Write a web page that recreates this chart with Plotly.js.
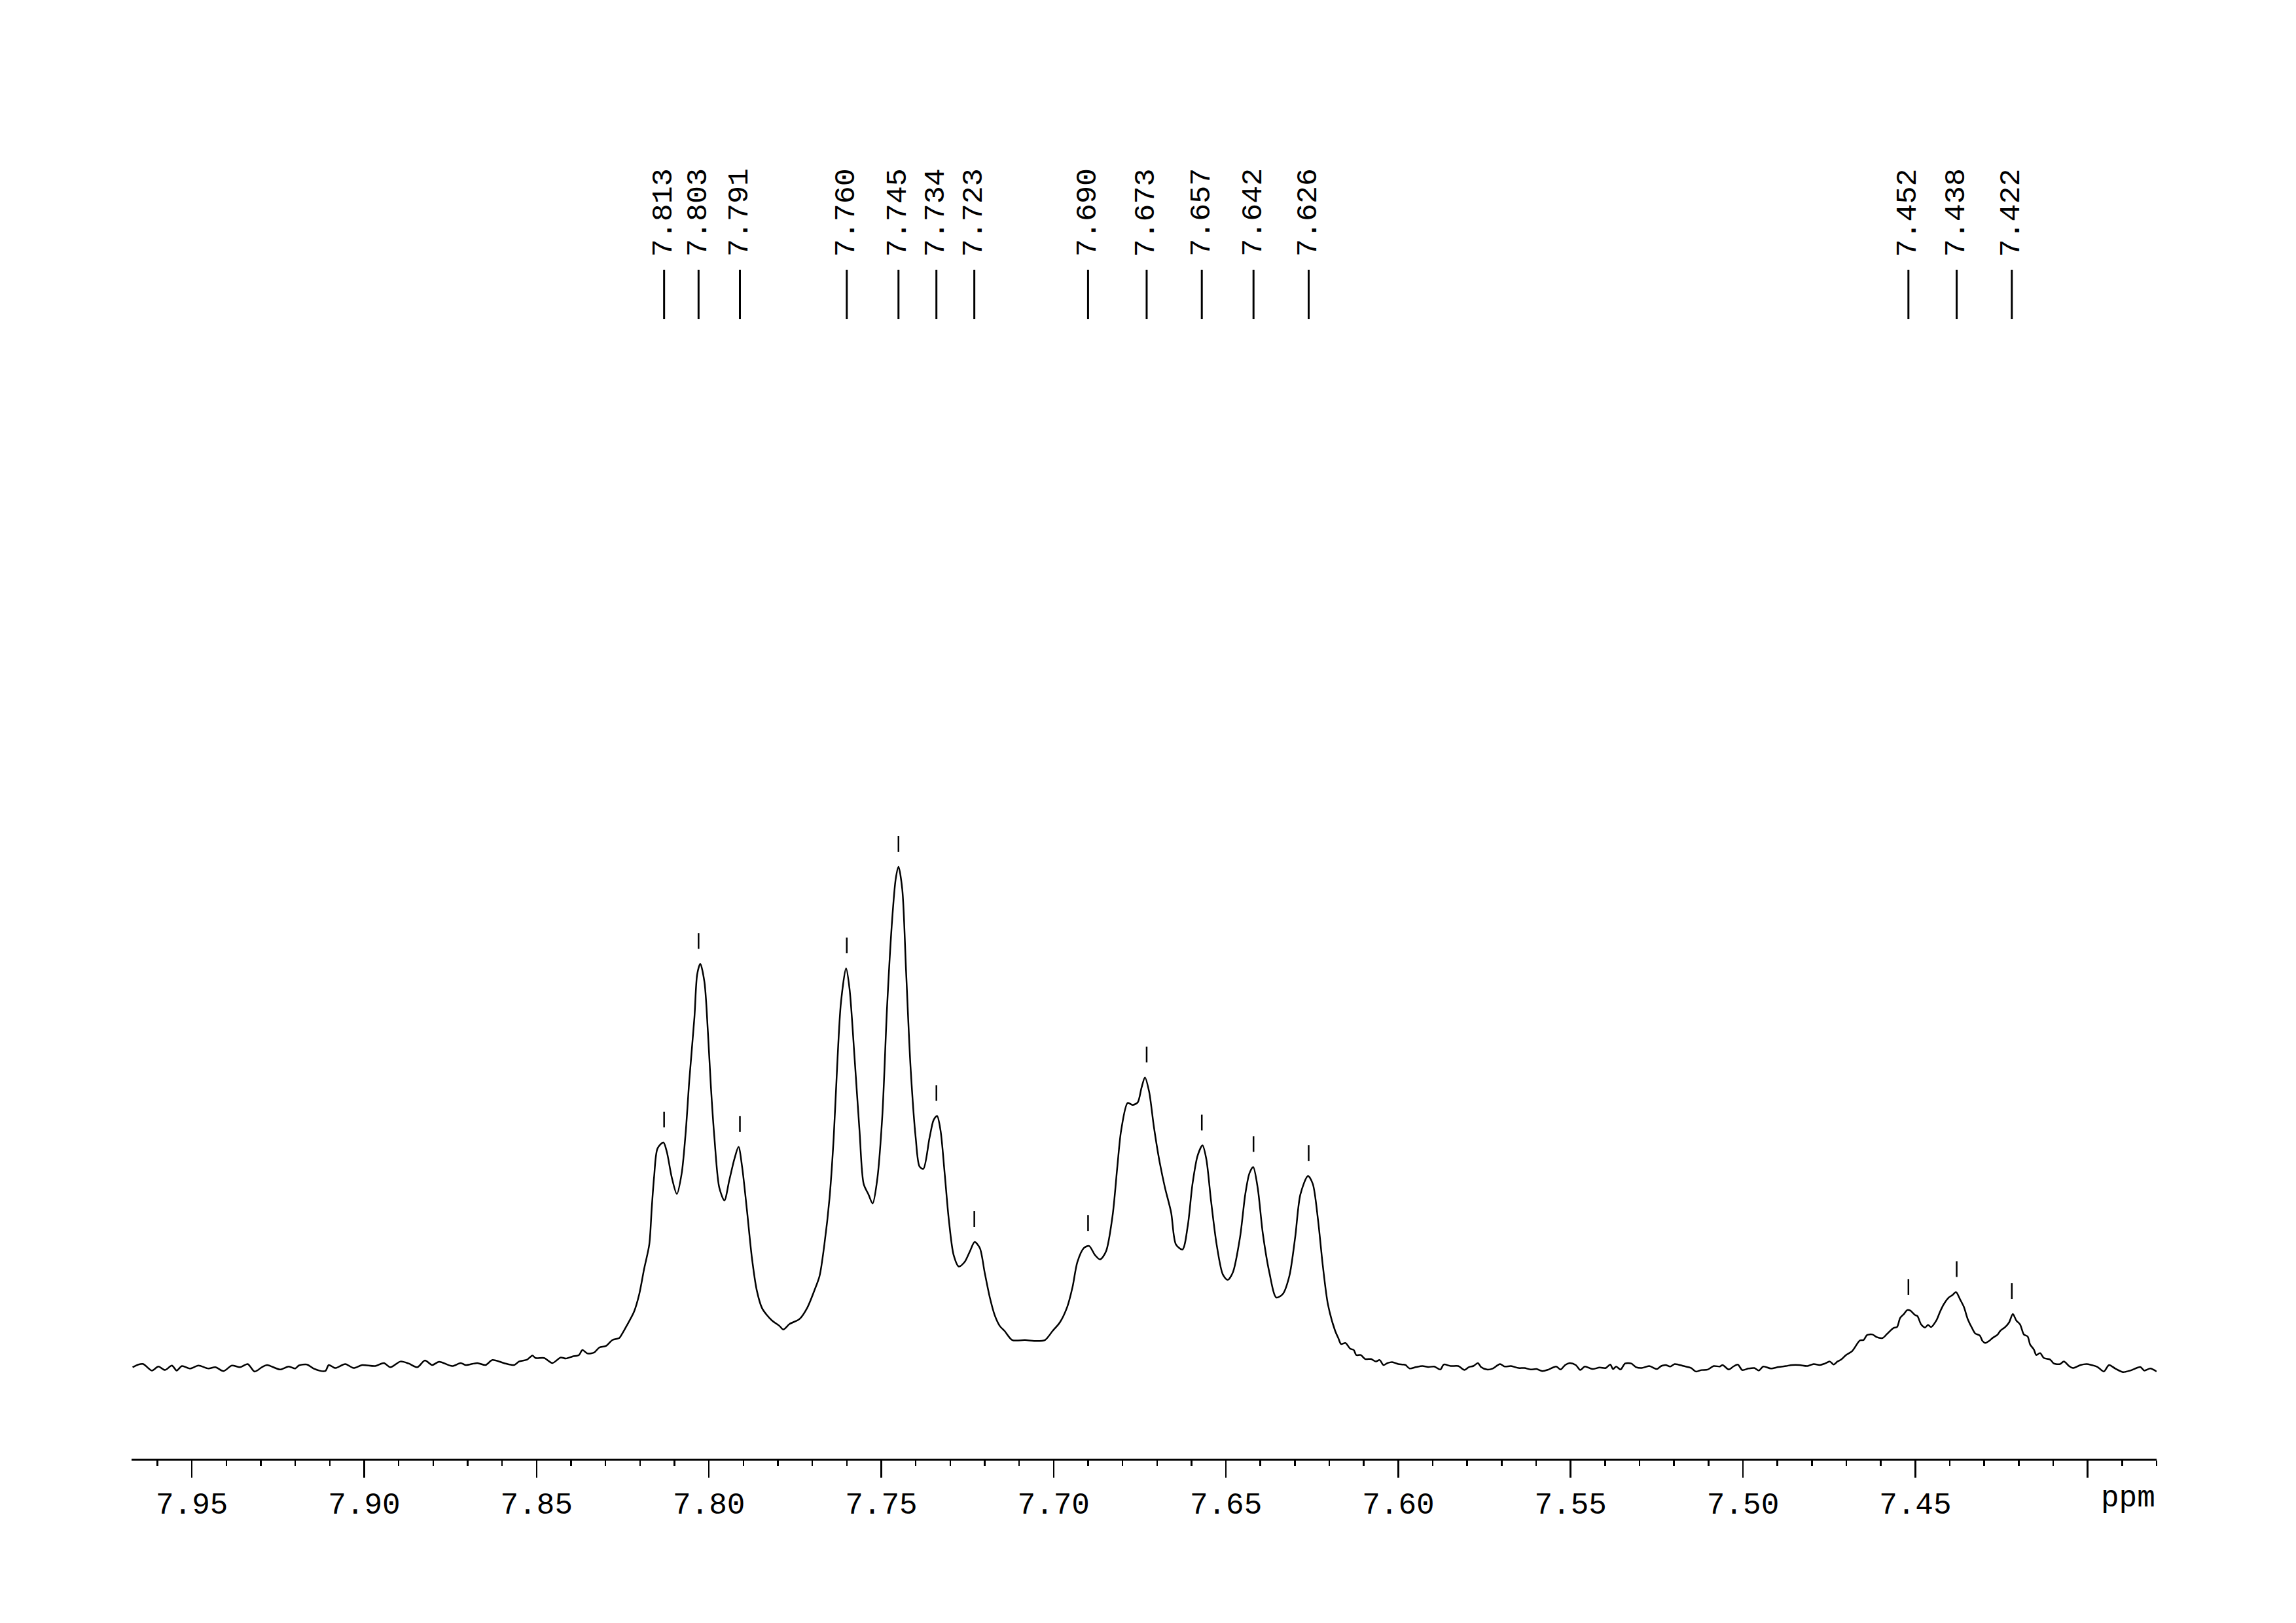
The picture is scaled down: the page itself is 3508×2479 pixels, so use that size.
<!DOCTYPE html>
<html>
<head>
<meta charset="utf-8">
<script src="https://cdn.plot.ly/plotly-3.0.1.min.js"></script>
<style>html,body{margin:0;padding:0;background:#fff;}#chart{width:3508px;height:2479px;}</style>
</head>
<body>
<div id="chart"></div>
<script>
// ---- spectrum (chemical shift in ppm, relative intensity) ----
var leftBasePpm = [7.9672,7.9655,7.9641,7.9616,7.9597,7.9578,7.9558,7.9544,7.9529,7.9505,
  7.9481,7.9452,7.9432,7.9408,7.9384,7.9360,7.9338,7.9318,7.9297,7.9282,
  7.9244,7.9219,7.9200,7.9190,7.9166,7.9147,7.9113,7.9103,7.9084,7.9055,
  7.9031,7.9006,7.8968,7.8943,7.8924,7.8895,7.8871,7.8846,7.8824,7.8803,
  7.8783,7.8745,7.8720,7.8706,7.8672,7.8648,7.8628,7.8595,7.8565,7.8551,
  7.8527,7.8512,7.8503,7.8478,7.8454,7.8430,7.8415,7.8396,7.8377,7.8367,
  7.8352,7.8333,7.8318,7.8299,7.8280,7.8260,7.8253];
var leftBaseInt = [-0.04,0.5,0.6,-0.7,0.1,-0.6,0.3,-0.7,0.2,-0.3,
  0.3,-0.3,-0.04,-0.8,0.3,-0.04,0.6,-0.9,-0.04,0.4,
  -0.5,0.1,-0.3,0.3,0.5,-0.3,-0.8,0.4,-0.2,0.6,
  -0.2,0.4,0.2,0.8,-0.04,1.1,0.7,-0.04,1.3,0.4,
  1.05,0.2,0.8,0.4,0.8,0.4,1.4,0.8,0.4,1.1,
  1.5,2.3,1.8,1.8,0.8,1.9,1.7,2.1,2.4,3.4,
  2.7,2.9,3.9,4.2,5.4,5.8,6.5];

var mainPpm = [7.8239,7.8217,7.8202,7.8188,7.8173,7.8166,7.8159,7.8149,7.8132,7.8122,
  7.8108,7.8093,7.8079,7.8067,7.8057,7.8042,7.8034,7.8025,7.8013,7.8003,
  7.7994,7.7984,7.7970,7.7955,7.7941,7.7926,7.7914,7.7904,7.7890,7.7875,
  7.7861,7.7846,7.7832,7.7817,7.7795,7.7784,7.7766,7.7737,7.7715,7.7694,
  7.7679,7.7665,7.7650,7.7638,7.7628,7.7617,7.7602,7.7592,7.7577,7.7563,
  7.7551,7.7537,7.7525,7.7512,7.7497,7.7483,7.7468,7.7458,7.7450,7.7439,
  7.7428,7.7415,7.7400,7.7389,7.7378,7.7360,7.7348,7.7338,7.7328,7.7316,
  7.7304,7.7290,7.7275,7.7258,7.7243,7.7229,7.7214,7.7200,7.7185,7.7171,
  7.7156,7.7142,7.7120,7.7083,7.7054,7.7025,7.7003,7.6982,7.6960,7.6945,
  7.6931,7.6912,7.6897,7.6880,7.6865,7.6848,7.6829,7.6815,7.6804,7.6785,
  7.6771,7.6756,7.6745,7.6735,7.6723,7.6709,7.6694,7.6677,7.6659,7.6645,
  7.6626,7.6611,7.6597,7.6582,7.6568,7.6557,7.6543,7.6527,7.6509,7.6495,
  7.6480,7.6459,7.6444,7.6432,7.6421,7.6408,7.6393,7.6374,7.6354,7.6335,
  7.6316,7.6299,7.6284,7.6262,7.6248,7.6233,7.6219,7.6204,7.6183];
var mainInt = [8.2,11.1,14.6,19.6,24.5,31.6,38.0,43.7,44.9,43.0,
  38.0,34.6,38.7,47.2,57.2,69.9,78.5,80.6,77.0,67.1,
  55.8,45.8,35.9,33.3,37.3,41.6,44.0,40.2,31.6,21.7,
  15.3,11.8,10.4,9.3,8.2,7.5,8.6,9.6,11.8,15.3,
  18.2,24.5,33.8,45.8,60.0,72.8,79.7,75.6,61.4,47.2,
  36.6,34.5,32.7,37.3,50.1,72.1,89.8,97.6,100.0,95.5,
  79.2,60.0,45.8,40.1,39.6,45.8,49.4,50.2,47.3,38.7,
  29.5,22.4,20.1,21.0,23.1,25.0,23.8,18.9,13.9,10.4,
  8.2,7.2,5.4,5.4,5.2,5.4,7.2,8.9,12.1,16.0,
  21.0,23.8,24.2,22.4,21.5,23.1,30.2,40.1,47.3,52.8,
  52.4,52.9,55.8,57.9,55.1,48.0,41.6,35.9,30.9,24.5,
  23.5,28.1,36.6,42.3,44.3,41.6,33.1,24.5,18.5,17.4,
  18.9,26.0,34.5,38.7,40.0,35.9,26.7,18.9,13.9,14.6,
  18.2,26.0,34.5,38.2,36.6,29.5,20.3,12.5,7.2];

var midBasePpm = [7.6174,7.6166,7.6153,7.6140,7.6129,7.6122,7.6109,7.6096,7.6079,7.6065,
  7.6054,7.6043,7.6031,7.6018,7.6000,7.5987,7.5979,7.5967,7.5948,7.5930,
  7.5913,7.5896,7.5878,7.5868,7.5848,7.5826,7.5808,7.5795,7.5782,7.5769,
  7.5760,7.5743,7.5726,7.5705,7.5691,7.5673,7.5651,7.5634,7.5616,7.5599,
  7.5582,7.5564,7.5542,7.5529,7.5516,7.5503,7.5485,7.5472,7.5459,7.5437,
  7.5416,7.5398,7.5385,7.5377,7.5368,7.5355,7.5342,7.5324,7.5311,7.5294,
  7.5272,7.5250,7.5237,7.5224,7.5211,7.5198,7.5172,7.5150,7.5137,7.5120,
  7.5102,7.5085,7.5067,7.5059,7.5041,7.5028,7.5015,7.5002,7.4984,7.4967,
  7.4954,7.4941,7.4919,7.4897,7.4875,7.4858,7.4836];
var midBaseInt = [5.8,4.6,4.8,3.7,3.4,2.4,2.4,1.6,1.6,1.1,
  1.4,0.4,0.8,1.0,0.6,0.5,0.4,-0.3,0.0,0.2,
  0.0,0.1,-0.5,0.5,0.2,0.2,-0.6,0.0,0.2,0.8,
  0.0,-0.5,-0.3,0.6,0.1,0.2,-0.2,-0.2,-0.5,-0.4,
  -0.8,-0.5,0.1,-0.5,0.4,0.8,0.4,-0.6,0.1,-0.4,
  -0.1,-0.2,0.5,-0.4,0.1,-0.5,0.7,0.7,0.0,-0.2,
  0.2,-0.4,0.2,0.4,0.1,0.6,0.2,-0.2,-0.9,-0.6,
  -0.5,0.2,0.1,0.4,-0.5,0.1,0.5,-0.6,-0.3,-0.2,
  -0.7,0.1,-0.3,0.0,0.2,0.4,0.4];

var rightPpm = [7.4813,7.4795,7.4777,7.4762,7.4748,7.4737,7.4726,7.4715,7.4701,7.4683,
  7.4661,7.4650,7.4640,7.4624,7.4613,7.4595,7.4581,7.4563,7.4553,7.4544,
  7.4533,7.4523,7.4515,7.4501,7.4494,7.4483,7.4472,7.4463,7.4454,7.4439,
  7.4428,7.4417,7.4403,7.4392,7.4382,7.4370,7.4359,7.4348,7.4334,7.4326,
  7.4313,7.4305,7.4297,7.4286,7.4276,7.4261,7.4254,7.4239,7.4228,7.4217,
  7.4207,7.4196,7.4185,7.4174,7.4167,7.4156,7.4149,7.4138,7.4127,7.4109,
  7.4098,7.4080,7.4069,7.4054,7.4043,7.4021,7.4003,7.3989,7.3971,7.3953,
  7.3938,7.3920,7.3898,7.3876,7.3847,7.3836,7.3818,7.3800];
var rightInt = [0.2,0.6,0.4,0.7,1.1,0.5,1.1,1.5,2.4,3.2,
  5.3,5.4,6.4,6.5,6.0,5.8,6.7,7.8,8.0,9.8,
  10.6,11.4,11.3,10.4,10.2,8.5,7.9,8.4,8.0,9.3,
  11.1,12.6,13.9,14.4,15.0,13.5,12.0,9.6,7.6,6.7,
  6.3,5.2,4.8,5.2,5.8,6.5,7.2,8.0,8.9,10.6,
  9.3,8.5,6.5,6.1,4.5,3.5,2.4,2.8,1.8,1.5,
  0.7,0.6,1.1,0.2,-0.2,0.4,0.6,0.4,0.0,-0.9,
  0.4,-0.3,-1.0,-0.7,0.0,-0.7,-0.3,-0.9];

// ---- picked peaks ----
var peakPpm = [7.813,7.803,7.791,7.760,7.745,7.734,7.723,7.690,7.673,7.657,7.642,7.626,7.452,7.438,7.422];
var peakHeight = [44.9,80.6,44.0,79.7,100.0,50.2,25.0,24.2,57.9,44.3,40.0,38.2,11.4,15.0,10.6];
var peakLabels = ['7.813','7.803','7.791','7.760','7.745','7.734','7.723','7.690','7.673','7.657','7.642','7.626','7.452','7.438','7.422'];

// ---- axis ticks ----
var tickValues = [7.95,7.90,7.85,7.80,7.75,7.70,7.65,7.60,7.55,7.50,7.45,7.40];
var tickLabels = ['7.95','7.90','7.85','7.80','7.75','7.70','7.65','7.60','7.55','7.50','7.45',''];
var axisUnit = 'ppm';

var xs = leftBasePpm.concat(mainPpm, midBasePpm, rightPpm);
var ys = leftBaseInt.concat(mainInt, midBaseInt, rightInt);

var FONT = 'Liberation Mono, Courier New, monospace';

var shapes = [];
var annotations = [];
for (var i = 0; i < peakPpm.length; i++) {
  shapes.push({type:'line', xref:'x', yref:'paper', x0:peakPpm[i], x1:peakPpm[i],
    y0:0.8181, y1:0.8534, line:{color:'#000', width:3}});
  shapes.push({type:'line', xref:'x', yref:'y', ysizemode:'pixel', yanchor:peakHeight[i],
    x0:peakPpm[i], x1:peakPpm[i], y0:23, y1:47, line:{color:'#000', width:2.5}});
  annotations.push({x:peakPpm[i], xref:'x', y:0.8618, yref:'paper', xanchor:'center', yanchor:'bottom',
    text:peakLabels[i], textangle:-90, showarrow:false,
    font:{family:FONT, size:45, color:'#000'}});
}
annotations.push({x:1, xref:'paper', xanchor:'right', y:-0.0285, yref:'paper', yanchor:'middle',
  text:axisUnit, showarrow:false, font:{family:FONT, size:46, color:'#000'}});

var trace = {x:xs, y:ys, type:'scatter', mode:'lines',
  line:{color:'#000', width:2.5, shape:'spline', smoothing:0.8},
  hoverinfo:'skip', showlegend:false, cliponaxis:false};

var layout = {
  width:3508, height:2479,
  margin:{l:201, r:213, t:100, b:251, pad:0},
  paper_bgcolor:'#fff', plot_bgcolor:'#fff',
  showlegend:false,
  xaxis:{range:[7.9675, 7.380], autorange:false,
    showline:true, linecolor:'#000', linewidth:3, mirror:false,
    showgrid:false, zeroline:false,
    ticks:'outside', ticklen:26, tickwidth:2.5, tickcolor:'#000',
    tickmode:'array', tickvals:tickValues, ticktext:tickLabels,
    tickfont:{family:FONT, size:46, color:'#000'},
    minor:{tickmode:'linear', tick0:7.40, dtick:0.01, ticks:'outside', ticklen:8, tickwidth:2.5, tickcolor:'#000', showgrid:false}
  },
  yaxis:{range:[-18.32, 260.2], autorange:false, visible:false, showgrid:false, zeroline:false},
  shapes:shapes,
  annotations:annotations
};

Plotly.newPlot('chart', [trace], layout, {staticPlot:true, displayModeBar:false});
</script>
</body>
</html>
